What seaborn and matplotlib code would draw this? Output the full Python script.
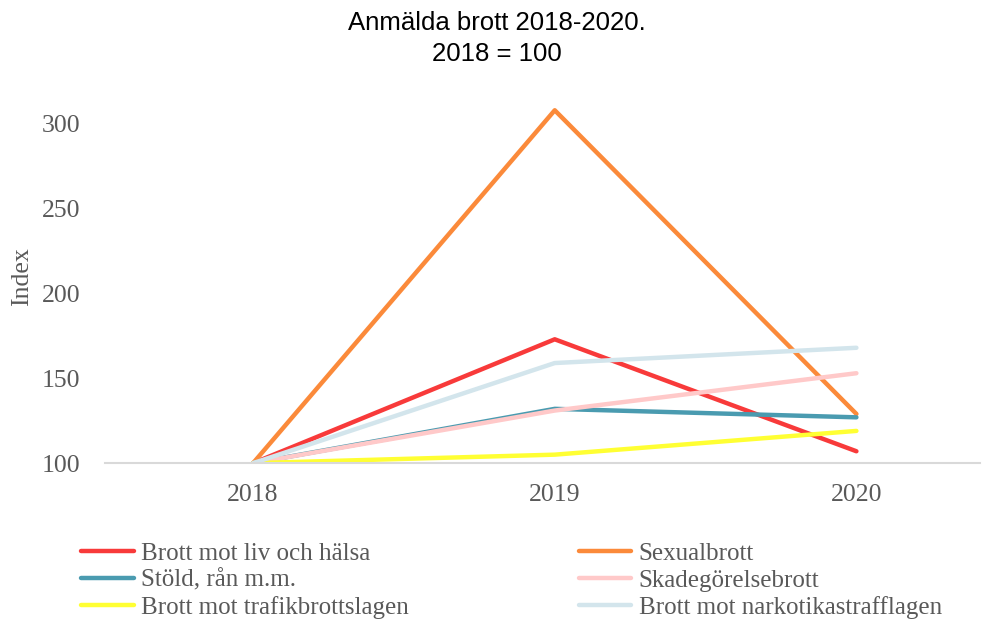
import pandas as pd
import matplotlib.pyplot as plt
import seaborn as sns

# data (2018 = 100)
years = ['2018', '2019', '2020']
brott_liv = [100, 173, 107]
sexualbrott = [100, 308, 129]
stold = [100, 132, 127]
skadegorelse = [100, 131, 153]
trafik = [100, 105, 119]
narkotika = [100, 159, 168]

labels = ['Brott mot liv och hälsa', 'Sexualbrott', 'Stöld, rån m.m.',
          'Skadegörelsebrott', 'Brott mot trafikbrottslagen', 'Brott mot narkotikastrafflagen']
colors = ['#f83a3a', '#fb8a3a', '#4a9bb0', '#ffc9c9', '#ffff33', '#d3e5ec']
series = [brott_liv, sexualbrott, stold, skadegorelse, trafik, narkotika]

rows = []
for lab, vals in zip(labels, series):
    for y, v in zip(years, vals):
        rows.append({'år': y, 'index': v, 'brott': lab})
df = pd.DataFrame(rows)

sns.set_style('white')
plt.rcParams['font.family'] = ['Liberation Serif', 'DejaVu Serif']

fig = plt.figure(figsize=(9.93, 6.2), dpi=100)
ax = fig.add_axes([0.106, 0.253, 0.881, 0.602])

sns.lineplot(data=df, x='år', y='index', hue='brott', hue_order=labels,
             palette=dict(zip(labels, colors)), linewidth=3.2, sort=False, ax=ax)

ax.set_xlim(-0.49, 2.41)
ax.set_ylim(100, 320)
ax.set_yticks([100, 150, 200, 250, 300])
ax.set_xlabel('')
ax.set_ylabel('Index', fontsize=18.5, color='#595959')
ax.yaxis.set_label_coords(-0.083, 0.5)
ax.tick_params(axis='both', length=0, labelsize=18.5, colors='#595959')
ax.tick_params(axis='y', pad=18)
ax.tick_params(axis='x', pad=15)
for s in ['top', 'right', 'left']:
    ax.spines[s].set_visible(False)
ax.spines['bottom'].set_color('#d9d9d9')
ax.spines['bottom'].set_linewidth(1.5)

fig.suptitle('Anmälda brott 2018-2020.\n2018 = 100', fontsize=18.5, color='black',
             family='Liberation Sans', y=0.982, linespacing=1.35)

# legend filled row by row like the original (two columns)
handles, labs = ax.get_legend_handles_labels()
ax.get_legend().remove()
order = [0, 2, 4, 1, 3, 5]
fig.legend([handles[i] for i in order], [labs[i] for i in order], ncol=2,
           loc='upper left', bbox_to_anchor=(0.069, 0.145),
           frameon=False, fontsize=18, handlelength=2.1, handletextpad=0.3,
           labelspacing=0.16, columnspacing=6.8, borderpad=0,
           labelcolor='#595959')

plt.savefig('out.png', dpi=100)
